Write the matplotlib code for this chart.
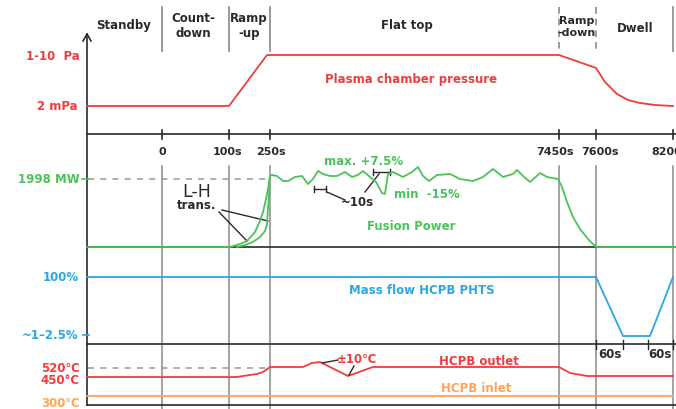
import matplotlib
matplotlib.use("Agg")
import matplotlib.pyplot as plt

# ---- schematic data (x: schematic time position, y: schematic level) ----
phase_labels = ["Standby", "Count-\ndown", "Ramp\n-up", "Flat top", "Ramp\n-down", "Dwell"]
phase_label_x = [124, 193, 249, 407, 577, 635]
phase_label_y = [25, 26, 26, 26, 27, 29]
phase_sep_x = [162, 229, 270, 559, 596, 673]
phase_sep_dashed = [False, False, False, True, True, False]

time_ticks_x = [162, 229, 270, 559, 596, 673]
time_tick_labels = ["0", "100s", "250s", "7450s", "7600s", "8200s"]
time_label_x = [162, 228, 271, 555, 600, 670]

pressure_x = [87, 229, 267, 559, 596, 605, 617, 628, 640, 655, 673]
pressure_y = [107, 107, 56, 56, 69, 83, 95, 101, 104, 106, 107]

power_x = [87, 230, 240, 247, 255, 260, 263, 266, 268, 270, 272, 277, 283, 288, 295,
           302, 308, 313, 318, 323, 330, 337, 345, 352, 358, 363, 370, 376, 382, 385,
           388, 393, 403, 412, 418, 423, 429, 437, 450, 460, 473, 483, 493, 503, 513,
           517, 523, 530, 540, 547, 558, 562, 567, 573, 580, 588, 596, 676]
power_y = [248, 248, 245, 242, 233, 222, 213, 200, 190, 177, 176, 177, 182, 182, 178,
           177, 185, 180, 172, 175, 177, 177, 173, 178, 176, 172, 178, 183, 194, 195,
           175, 173, 178, 173, 168, 177, 182, 176, 175, 180, 182, 178, 170, 178, 175,
           171, 177, 183, 174, 178, 180, 188, 203, 218, 230, 240, 248, 248]
power_alt_x = [237, 245, 253, 260, 265, 267, 268, 269, 270]
power_alt_y = [248, 246, 243, 238, 232, 225, 210, 195, 177]

massflow_x = [87, 596, 623, 650, 673]
massflow_y = [278, 278, 337, 337, 278]

outlet_x = [87, 237, 243, 257, 263, 270, 303, 312, 320, 348, 373, 559, 570, 587, 673]
outlet_y = [378, 378, 377, 375, 373, 368, 368, 364, 363, 377, 368, 368, 374, 377, 377]
inlet_x = [87, 673]
inlet_y = [397, 397]

RED = "#f03c3c"
GREEN = "#4cc35a"
BLUE = "#2aa7e3"
ORANGE = "#ffa552"
DARK = "#2a2a2a"
GRAY = "#8a8a8a"

fig = plt.figure(figsize=(6.76, 4.10), dpi=100)
ax = fig.add_axes([0, 0, 1, 1])
ax.set_xlim(0, 676)
ax.set_ylim(410, 0)
ax.axis("off")

FS = 8.5
bold = dict(fontweight="bold", fontsize=FS)

# phase header
for lab, x, y in zip(phase_labels, phase_label_x, phase_label_y):
    fs = 8 if "down" in lab and "Ramp" in lab else FS
    ax.text(x, y, lab, ha="center", va="center", color=DARK, linespacing=1.15,
            fontweight="bold", fontsize=fs)
for x, d in zip(phase_sep_x, phase_sep_dashed):
    ax.plot([x, x], [8, 52], color=GRAY, lw=1.2, ls=(0, (4, 3)) if d else "-")

# vertical axis with arrow
ax.plot([87, 87], [35, 406], color=DARK, lw=1.2)
ax.plot([83, 87, 91], [42, 35, 42], color=DARK, lw=1.2)

# horizontal panel lines
for y in [135, 248, 345, 406]:
    ax.plot([87, 676], [y, y], color=DARK, lw=1.2)

# time ticks and labels
for x, lx, lab in zip(time_ticks_x, time_label_x, time_tick_labels):
    ax.plot([x, x], [131, 140], color=DARK, lw=1.2)
    ax.text(lx, 152, lab, ha="center", va="center", color=DARK,
            fontweight="bold", fontsize=8, clip_on=True)
    ax.plot([x, x], [167, 410], color=GRAY, lw=1.1, zorder=1)

# pressure
ax.plot(pressure_x, pressure_y, color=RED, lw=1.3)
ax.text(80, 56, "1-10  Pa", ha="right", va="center", color=RED, **bold)
ax.text(78, 107, "2 mPa", ha="right", va="center", color=RED, **bold)
ax.text(411, 80, "Plasma chamber pressure", ha="center", va="center", color=RED, **bold)

# fusion power
ax.plot([88, 268], [180, 180], color="#999999", lw=1.1, ls=(0, (4, 4)))
ax.plot([82, 88], [180, 180], color=GREEN, lw=1.2)
ax.plot(power_x, power_y, color=GREEN, lw=1.3, zorder=3)
ax.plot(power_alt_x, power_alt_y, color=GREEN, lw=1.3, zorder=3)
ax.text(80, 180, "1998 MW", ha="right", va="center", color=GREEN, **bold)
ax.text(364, 162, "max. +7.5%", ha="center", va="center", color=GREEN, **bold)
ax.text(427, 195, "min  -15%", ha="center", va="center", color=GREEN, **bold)
ax.text(411, 227, "Fusion Power", ha="center", va="center", color=GREEN, **bold)
ax.text(197, 192, "L-H", ha="center", va="center", color=DARK, fontsize=12.5)
ax.text(197, 206, "trans.", ha="center", va="center", color=DARK, **bold)
ax.plot([222, 268], [211, 222], color=DARK, lw=1.0)
ax.plot([219, 247], [213, 242], color=DARK, lw=1.0)
# ~10s markers
for x0, x1, y in [(314, 326, 190), (373, 390, 173)]:
    ax.plot([x0, x1], [y, y], color=DARK, lw=1.0)
    ax.plot([x0, x0], [y - 3, y + 3], color=DARK, lw=1.0)
    ax.plot([x1, x1], [y - 3, y + 3], color=DARK, lw=1.0)
ax.plot([327, 345], [193, 201], color=DARK, lw=1.0)
ax.plot([379, 365], [175, 193], color=DARK, lw=1.0)
ax.text(357, 203, "~10s", ha="center", va="center", color=DARK, **bold)

# mass flow
ax.plot(massflow_x, massflow_y, color=BLUE, lw=1.3)
ax.text(79, 278, "100%", ha="right", va="center", color=BLUE, **bold)
ax.text(78, 336, "~1\u20132.5%", ha="right", va="center", color=BLUE, **bold)
ax.plot([83, 89], [336, 336], color=BLUE, lw=1.2)
ax.text(422, 291, "Mass flow HCPB PHTS", ha="center", va="center", color=BLUE, **bold)
for x in [596, 623, 648, 673]:
    ax.plot([x, x], [341, 350], color=DARK, lw=1.0)
ax.text(610, 355, "60s", ha="center", va="center", color=DARK, **bold)
ax.text(660, 355, "60s", ha="center", va="center", color=DARK, **bold)

# temperatures
ax.plot([88, 266], [369, 369], color="#999999", lw=1.1, ls=(0, (4, 4)))
ax.plot(outlet_x, outlet_y, color=RED, lw=1.3)
ax.plot(inlet_x, inlet_y, color=ORANGE, lw=1.3)
ax.text(80, 369, "520\u2103", ha="right", va="center", color=RED, **bold)
ax.text(80, 381, "450\u00b0C", ha="right", va="center", color=RED, **bold)
ax.text(80, 404, "300\u2103", ha="right", va="center", color=ORANGE, **bold)
ax.text(479, 362, "HCPB outlet", ha="center", va="center", color=RED, **bold)
ax.text(476, 389, "HCPB inlet", ha="center", va="center", color=ORANGE, **bold)
ax.text(357, 360, "\u00b110\u2103", ha="center", va="center", color=RED, **bold)
ax.plot([322, 338], [364, 361], color=DARK, lw=1.0)
ax.plot([349, 354], [376, 367], color=DARK, lw=1.0)

fig.savefig("out.png", dpi=100, facecolor="white")
